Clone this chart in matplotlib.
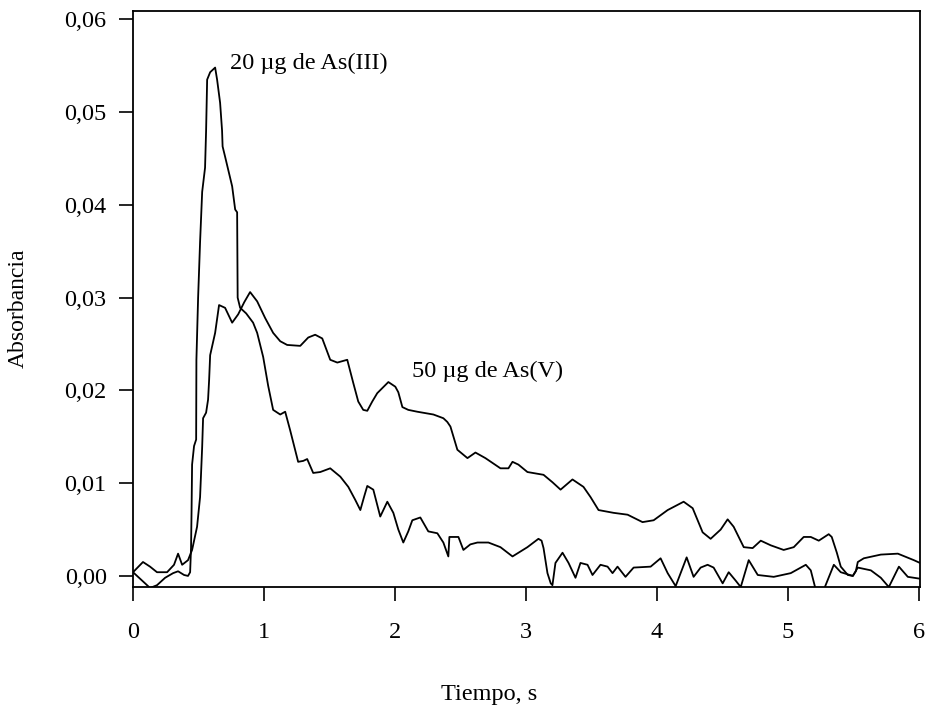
#!/usr/bin/env python3
"""
Absorbance vs time profiles for As(III) and As(V).
"""

import matplotlib
matplotlib.use("Agg")
import matplotlib.pyplot as plt

plt.rcParams['font.family'] = ['Liberation Serif', 'DejaVu Serif']

# tiempo (s) / absorbancia
t_as3 = [0.000, 0.092, 0.130, 0.183, 0.245, 0.306, 0.344, 0.390, 0.420, 0.436,
         0.443, 0.447, 0.451, 0.466, 0.482, 0.484, 0.497, 0.512, 0.528, 0.550,
         0.558, 0.566, 0.589, 0.627, 0.642, 0.665, 0.680, 0.684, 0.703, 0.757,
         0.780, 0.795, 0.799, 0.818, 0.864, 0.917, 0.948, 0.994, 1.032, 1.070,
         1.124, 1.162, 1.200, 1.261, 1.300, 1.330, 1.376, 1.430, 1.506, 1.583,
         1.644, 1.697, 1.736, 1.766, 1.789, 1.835, 1.888, 1.942, 1.988, 2.026,
         2.064, 2.102, 2.133, 2.194, 2.255, 2.324, 2.370, 2.408, 2.416, 2.485,
         2.523, 2.576, 2.630, 2.714, 2.806, 2.898, 3.012, 3.096, 3.120, 3.135,
         3.165, 3.190, 3.203, 3.226, 3.280, 3.326, 3.379, 3.417, 3.471, 3.509,
         3.570, 3.624, 3.662, 3.700, 3.761, 3.823, 3.953, 4.029, 4.083, 4.144,
         4.228, 4.281, 4.335, 4.388, 4.434, 4.503, 4.549, 4.602, 4.641, 4.702,
         4.771, 4.893, 5.023, 5.138, 5.176, 5.214, 5.275, 5.352, 5.405, 5.497,
         5.535, 5.635, 5.711, 5.772, 5.849, 5.917, 6.010]
a_as3 = [0.0004, -0.0008, -0.0013, -0.0010, -0.0002, 0.0003, 0.0005, 0.0001, 0.0000, 0.0004,
         0.0030, 0.0070, 0.0120, 0.0140, 0.0147, 0.0233, 0.0300, 0.0360, 0.0414, 0.0440,
         0.0480, 0.0535, 0.0543, 0.0548, 0.0535, 0.0510, 0.0480, 0.0463, 0.0452, 0.0420,
         0.0395, 0.0392, 0.0300, 0.0289, 0.0283, 0.0273, 0.0262, 0.0236, 0.0205, 0.0179,
         0.0174, 0.0177, 0.0157, 0.0123, 0.0124, 0.0126, 0.0111, 0.0112, 0.0116, 0.0107,
         0.0096, 0.0082, 0.0071, 0.0086, 0.0097, 0.0093, 0.0064, 0.0080, 0.0068, 0.0050,
         0.0036, 0.0048, 0.0060, 0.0063, 0.0048, 0.0046, 0.0036, 0.0021, 0.0042, 0.0042,
         0.0028, 0.0034, 0.0036, 0.0036, 0.0031, 0.0021, 0.0031, 0.0040, 0.0038, 0.0030,
         0.0003, -0.0008, -0.0010, 0.0014, 0.0025, 0.0014, -0.0002, 0.0014, 0.0012, 0.0001,
         0.0012, 0.0010, 0.0003, 0.0010, -0.0001, 0.0009, 0.0010, 0.0019, 0.0003, -0.0011,
         0.0020, -0.0001, 0.0009, 0.0012, 0.0009, -0.0008, 0.0004, -0.0005, -0.0012, 0.0017,
         0.0001, -0.0001, 0.0003, 0.0012, 0.0006, -0.0015, -0.0015, 0.0012, 0.0004, 0.0000,
         0.0009, 0.0006, -0.0002, -0.0012, 0.0010, -0.0001, -0.0003]

t_as5 = [0.000, 0.076, 0.130, 0.183, 0.260, 0.313, 0.344, 0.375, 0.420, 0.451,
         0.489, 0.512, 0.528, 0.535, 0.558, 0.573, 0.581, 0.589, 0.627, 0.657,
         0.703, 0.757, 0.803, 0.849, 0.894, 0.948, 1.009, 1.070, 1.124, 1.177,
         1.277, 1.338, 1.391, 1.445, 1.506, 1.560, 1.636, 1.682, 1.720, 1.758,
         1.789, 1.827, 1.865, 1.950, 2.003, 2.026, 2.057, 2.102, 2.171, 2.294,
         2.370, 2.400, 2.424, 2.477, 2.554, 2.615, 2.691, 2.806, 2.867, 2.898,
         2.943, 3.012, 3.135, 3.203, 3.265, 3.356, 3.440, 3.494, 3.555, 3.670,
         3.777, 3.891, 3.976, 4.083, 4.205, 4.274, 4.350, 4.411, 4.488, 4.541,
         4.587, 4.664, 4.732, 4.794, 4.870, 4.969, 5.046, 5.122, 5.176, 5.237,
         5.313, 5.336, 5.375, 5.405, 5.459, 5.497, 5.520, 5.535, 5.581, 5.711,
         5.841, 5.963, 6.010]
a_as5 = [0.0004, 0.0015, 0.0010, 0.0004, 0.0004, 0.0012, 0.0024, 0.0012, 0.0017, 0.0028,
         0.0053, 0.0085, 0.0139, 0.0170, 0.0176, 0.0190, 0.0211, 0.0238, 0.0262, 0.0292,
         0.0289, 0.0273, 0.0282, 0.0295, 0.0306, 0.0296, 0.0278, 0.0262, 0.0253, 0.0249,
         0.0248, 0.0257, 0.0260, 0.0256, 0.0233, 0.0230, 0.0233, 0.0208, 0.0188, 0.0179,
         0.0178, 0.0188, 0.0197, 0.0209, 0.0204, 0.0198, 0.0182, 0.0179, 0.0177, 0.0174,
         0.0170, 0.0166, 0.0161, 0.0136, 0.0127, 0.0133, 0.0127, 0.0116, 0.0116, 0.0123,
         0.0120, 0.0112, 0.0109, 0.0101, 0.0093, 0.0104, 0.0096, 0.0085, 0.0071, 0.0068,
         0.0066, 0.0058, 0.0060, 0.0071, 0.0080, 0.0073, 0.0047, 0.0040, 0.0050, 0.0061,
         0.0053, 0.0031, 0.0030, 0.0038, 0.0033, 0.0028, 0.0031, 0.0042, 0.0042, 0.0038,
         0.0045, 0.0042, 0.0025, 0.0010, 0.0001, 0.0000, 0.0005, 0.0015, 0.0019, 0.0023,
         0.0024, 0.0017, 0.0014]

x_ticks = [0, 1, 2, 3, 4, 5, 6]
y_ticks = [0.00, 0.01, 0.02, 0.03, 0.04, 0.05, 0.06]
y_ticklabels = ['0,00', '0,01', '0,02', '0,03', '0,04', '0,05', '0,06']

fig = plt.figure(figsize=(9.29, 7.09), dpi=100)
ax = fig.add_axes([0.1432, 0.172, 0.8471, 0.8125])

ax.plot(t_as3, a_as3, color='black', lw=1.3)
ax.plot(t_as5, a_as5, color='black', lw=1.3)

ax.set_xlim(0, 6.01)
ax.set_ylim(-0.0012, 0.0609)

ax.set_xticks(x_ticks)
ax.set_xticklabels([str(v) for v in x_ticks])
ax.set_yticks(y_ticks)
ax.set_yticklabels(y_ticklabels)
ax.tick_params(axis='x', direction='out', length=10, width=1.2, pad=15, labelsize=17.5)
ax.tick_params(axis='y', direction='out', length=10, width=1.2, pad=9, labelsize=17.5)

for s in ax.spines.values():
    s.set_linewidth(1.3)

ax.text(0.742, 0.0553, '20 µg de As(III)', fontsize=17.5, va='center', ha='left')
ax.text(2.13, 0.0221, '50 µg de As(V)', fontsize=17.5, va='center', ha='left')

fig.text(0.526, 0.005, 'Tiempo, s', fontsize=17.5, ha='center', va='bottom')
fig.text(0.02, 0.565, 'Absorbancia', fontsize=17, ha='center', va='center',
         rotation=90)

fig.savefig('out.png', dpi=100)
